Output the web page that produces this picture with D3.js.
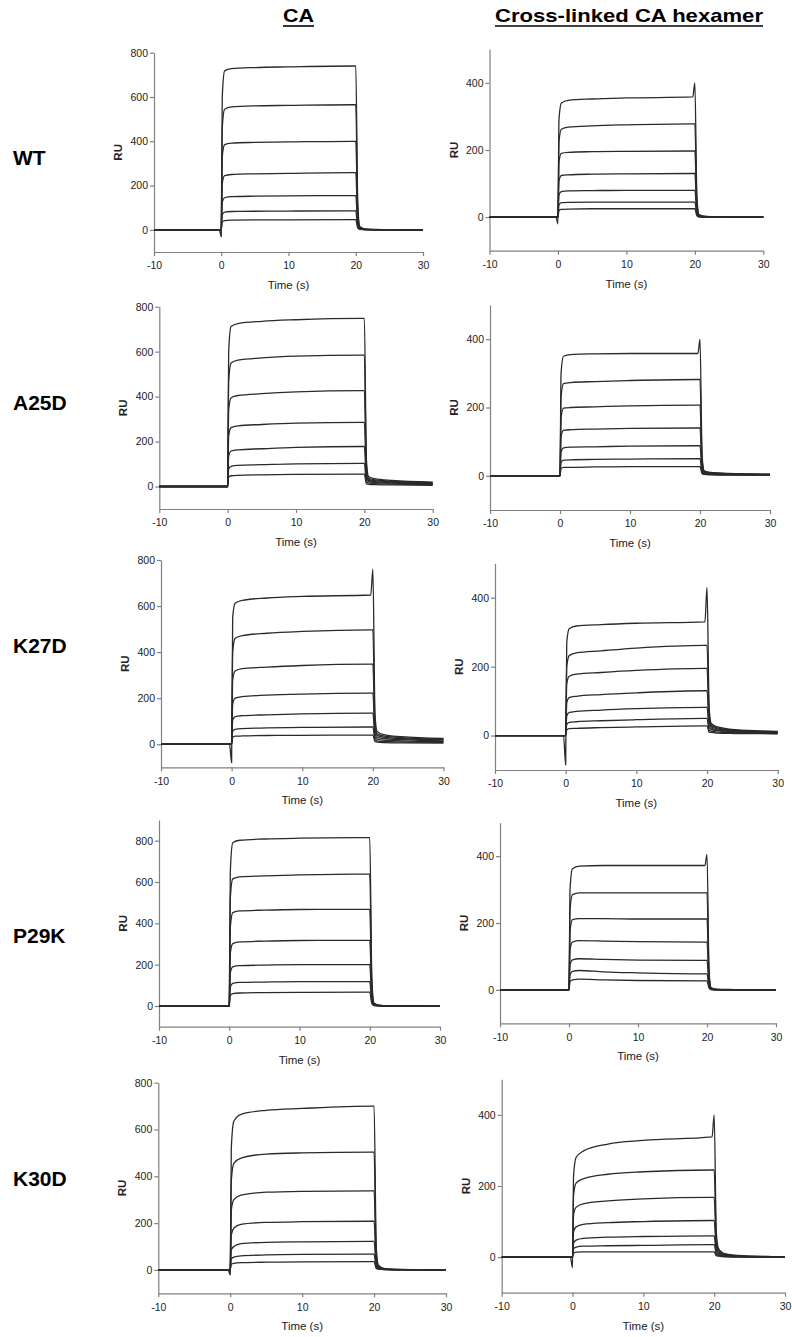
<!DOCTYPE html>
<html>
<head>
<meta charset="utf-8">
<script src="https://cdn.jsdelivr.net/npm/d3@7"></script>
<style>
  body { margin: 0; background: #fff; }
  svg { display: block; }
  .axis path, .axis line { stroke: #808080; stroke-width: 1.2; }
  .axis text { fill: #222; font-family: Arial, 'Liberation Sans', sans-serif; font-size: 10.5px; }
</style>
</head>
<body>
<svg id="chart" width="792" height="1337"></svg>
<script>
const times = [-10, -0.3, 0, 0.15, 0.5, 1.5, 5, 10, 19.7, 20, 20.3, 20.6, 21.5, 24, 30];

const mutants = ['WT', 'A25D', 'K27D', 'P29K', 'K30D'];
const columns = ['CA', 'Cross-linked CA hexamer'];
const xTicks = [-10, 0, 10, 20, 30];
const caTicks = [0, 200, 400, 600, 800];
const hexTicks = [0, 200, 400];

// RU values, one row per analyte concentration
const wtCA = [
  [0, 0, -30, 600, 718, 728, 733, 736, 740, 740, 120, 15, 3, 1, 0],
  [0, 0, 0, 460, 545, 555, 560, 562, 565, 565, 90, 12, 3, 1, 0],
  [0, 0, 0, 330, 385, 392, 395, 397, 400, 400, 65, 8, 2, 1, 0],
  [0, 0, 0, 210, 245, 250, 253, 255, 258, 258, 40, 6, 2, 0, 0],
  [0, 0, 0, 125, 145, 150, 152, 153, 155, 155, 25, 4, 1, 0, 0],
  [0, 0, 0, 68, 80, 83, 84, 85, 86, 86, 14, 3, 1, 0, 0],
  [0, 0, 0, 36, 42, 44, 45, 45, 46, 46, 8, 2, 0, 0, 0]
];
const wtHex = [
  [0, 0, -20, 290, 340, 348, 352, 355, 358, 400, 60, 8, 2, 1, 0],
  [0, 0, 0, 225, 262, 268, 272, 275, 278, 278, 45, 6, 2, 0, 0],
  [0, 0, 0, 165, 190, 193, 195, 196, 197, 197, 32, 4, 1, 0, 0],
  [0, 0, 0, 108, 124, 126, 128, 129, 130, 130, 22, 3, 1, 0, 0],
  [0, 0, 0, 66, 76, 78, 79, 80, 80, 80, 13, 2, 0, 0, 0],
  [0, 0, 0, 37, 43, 44, 45, 45, 45, 45, 8, 1, 0, 0, 0],
  [0, 0, 0, 20, 23, 24, 25, 25, 25, 25, 4, 1, 0, 0, 0]
];
const a25dCA = [
  [0, 0, 0, 600, 712, 725, 735, 742, 748, 748, 120, 45, 35, 27, 20],
  [0, 0, 0, 470, 550, 562, 572, 580, 585, 585, 95, 38, 30, 24, 17],
  [0, 0, 0, 340, 395, 405, 413, 421, 427, 427, 70, 32, 26, 21, 15],
  [0, 0, 0, 225, 262, 270, 276, 282, 285, 285, 48, 27, 22, 18, 13],
  [0, 0, 0, 135, 158, 163, 168, 174, 178, 178, 32, 22, 18, 15, 11],
  [0, 0, 0, 78, 90, 94, 97, 101, 103, 103, 20, 16, 13, 11, 8],
  [0, 0, 0, 42, 48, 50, 52, 54, 55, 55, 12, 10, 8, 7, 5]
];
const a25dHex = [
  [0, 0, 0, 300, 350, 355, 357, 358, 358, 400, 60, 15, 10, 7, 5],
  [0, 0, 0, 230, 270, 273, 276, 279, 282, 282, 45, 13, 9, 6, 4],
  [0, 0, 0, 170, 198, 200, 202, 205, 207, 207, 33, 11, 8, 5, 4],
  [0, 0, 0, 115, 133, 135, 137, 139, 140, 140, 23, 9, 7, 5, 3],
  [0, 0, 0, 70, 82, 84, 85, 87, 88, 88, 15, 7, 5, 4, 3],
  [0, 0, 0, 40, 46, 47, 48, 49, 50, 50, 9, 5, 4, 3, 2],
  [0, 0, 0, 21, 25, 25, 26, 27, 27, 27, 6, 4, 3, 2, 2]
];
const k27dCA = [
  [0, 0, -80, 550, 612, 625, 635, 642, 648, 760, 130, 55, 42, 33, 25],
  [0, 0, 0, 400, 460, 472, 482, 490, 497, 497, 90, 45, 36, 29, 22],
  [0, 0, 0, 280, 318, 328, 335, 342, 348, 348, 65, 38, 31, 25, 19],
  [0, 0, 0, 175, 200, 207, 213, 218, 222, 222, 45, 30, 25, 20, 15],
  [0, 0, 0, 105, 120, 124, 128, 132, 135, 135, 30, 22, 18, 15, 12],
  [0, 0, 0, 57, 65, 68, 71, 73, 75, 75, 20, 15, 12, 10, 8],
  [0, 0, 0, 30, 35, 36, 38, 39, 40, 40, 12, 9, 7, 6, 5]
];
const k27dHex = [
  [0, 0, -85, 270, 310, 318, 322, 326, 330, 430, 80, 35, 25, 17, 12],
  [0, 0, 0, 200, 232, 240, 246, 254, 262, 262, 60, 30, 22, 15, 11],
  [0, 0, 0, 150, 172, 178, 183, 189, 195, 195, 45, 26, 19, 14, 10],
  [0, 0, 0, 95, 110, 114, 119, 124, 130, 130, 32, 22, 16, 12, 9],
  [0, 0, 0, 57, 67, 70, 74, 78, 82, 82, 22, 18, 14, 10, 8],
  [0, 0, 0, 32, 38, 40, 43, 46, 50, 50, 15, 13, 10, 8, 6],
  [0, 0, 0, 16, 20, 21, 23, 25, 28, 28, 10, 9, 7, 6, 5]
];
const p29kCA = [
  [0, 0, 0, 650, 790, 802, 808, 812, 815, 815, 130, 15, 3, 1, 0],
  [0, 0, 0, 520, 615, 625, 630, 635, 638, 638, 100, 12, 3, 1, 0],
  [0, 0, 0, 380, 452, 460, 464, 467, 468, 468, 75, 9, 2, 1, 0],
  [0, 0, 0, 255, 302, 310, 314, 317, 318, 318, 50, 6, 2, 0, 0],
  [0, 0, 0, 160, 190, 195, 198, 200, 200, 200, 32, 4, 1, 0, 0],
  [0, 0, 0, 92, 110, 114, 116, 118, 118, 118, 19, 3, 1, 0, 0],
  [0, 0, 0, 50, 60, 63, 65, 66, 67, 67, 11, 2, 0, 0, 0]
];
const p29kHex = [
  [0, 0, 0, 300, 362, 370, 372, 372, 372, 405, 55, 6, 2, 1, 0],
  [0, 0, 0, 240, 285, 290, 290, 290, 290, 290, 45, 5, 1, 0, 0],
  [0, 0, 0, 175, 210, 213, 213, 212, 212, 212, 33, 4, 1, 0, 0],
  [0, 0, 0, 120, 143, 147, 146, 144, 143, 143, 23, 3, 1, 0, 0],
  [0, 0, 0, 75, 90, 93, 91, 89, 88, 88, 14, 2, 0, 0, 0],
  [0, 0, 0, 45, 55, 58, 54, 51, 48, 48, 8, 1, 0, 0, 0],
  [0, 0, 0, 25, 30, 32, 30, 28, 27, 27, 5, 1, 0, 0, 0]
];
const k30dCA = [
  [0, 0, -20, 520, 635, 665, 682, 690, 700, 700, 100, 20, 5, 2, 0],
  [0, 0, 0, 380, 455, 478, 495, 500, 503, 503, 70, 15, 4, 1, 0],
  [0, 0, 0, 255, 300, 320, 332, 336, 338, 338, 48, 12, 3, 1, 0],
  [0, 0, 0, 150, 178, 195, 203, 206, 208, 208, 30, 9, 2, 1, 0],
  [0, 0, 0, 85, 100, 112, 118, 120, 122, 122, 18, 6, 2, 0, 0],
  [0, 0, 0, 47, 55, 60, 64, 66, 67, 67, 10, 4, 1, 0, 0],
  [0, 0, 0, 24, 28, 31, 33, 34, 35, 35, 6, 3, 1, 0, 0]
];
const k30dHex = [
  [0, 0, -30, 230, 280, 298, 318, 328, 338, 400, 70, 25, 10, 4, 1],
  [0, 0, 0, 175, 208, 220, 233, 240, 245, 245, 50, 20, 8, 3, 1],
  [0, 0, 0, 120, 140, 150, 158, 164, 168, 168, 35, 15, 6, 2, 1],
  [0, 0, 0, 72, 85, 92, 97, 100, 103, 103, 22, 11, 5, 2, 0],
  [0, 0, 0, 40, 48, 53, 56, 58, 60, 60, 13, 8, 3, 1, 0],
  [0, 0, 0, 23, 28, 31, 32, 33, 35, 35, 8, 5, 2, 1, 0],
  [0, 0, 0, 11, 14, 15, 15, 15, 15, 15, 4, 3, 1, 0, 0]
];

// panel placement on the page (pixels)
const panels = [
  { data: wtCA,    ymax: 800, ticks: caTicks,  left: 154,   right: 423,   top: 52.7,   bottom: 252 },
  { data: wtHex,   ymax: 500, ticks: hexTicks, left: 489.5, right: 763.3, top: 49.3,   bottom: 250.7 },
  { data: a25dCA,  ymax: 800, ticks: caTicks,  left: 159.3, right: 432.7, top: 306.7,  bottom: 509 },
  { data: a25dHex, ymax: 500, ticks: hexTicks, left: 490,   right: 770,   top: 305,    bottom: 510 },
  { data: k27dCA,  ymax: 800, ticks: caTicks,  left: 161,   right: 443.5, top: 560,    bottom: 767.3 },
  { data: k27dHex, ymax: 500, ticks: hexTicks, left: 495,   right: 777.7, top: 563.3,  bottom: 770 },
  { data: p29kCA,  ymax: 900, ticks: caTicks,  left: 159,   right: 440,   top: 820,    bottom: 1026.7 },
  { data: p29kHex, ymax: 500, ticks: hexTicks, left: 500,   right: 776,   top: 822.7,  bottom: 1023.3 },
  { data: k30dCA,  ymax: 800, ticks: caTicks,  left: 158.3, right: 446,   top: 1082.7, bottom: 1293.3 },
  { data: k30dHex, ymax: 500, ticks: hexTicks, left: 501.7, right: 785,   top: 1079.3, bottom: 1292.7 }
];
const rowLabelY = [157, 402, 645, 935, 1178];
const titleX = [298.5, 629];
const titleWidth = [31, 268];

const font = 'Arial, "Liberation Sans", sans-serif';
const plain = d => String(d); // keep the hyphen-minus of the original labels
const svg = d3.select('#chart');

// column titles, underlined (the figure is stretched a little horizontally)
columns.forEach((c, i) => {
  svg.append('text')
    .attr('x', titleX[i] - titleWidth[i] / 2)
    .attr('y', 22)
    .attr('textLength', titleWidth[i])
    .attr('lengthAdjust', 'spacingAndGlyphs')
    .style('font-family', font)
    .style('font-weight', 'bold')
    .style('font-size', '18.5px')
    .text(c);
  svg.append('line')
    .attr('x1', titleX[i] - titleWidth[i] / 2).attr('x2', titleX[i] + titleWidth[i] / 2)
    .attr('y1', 26).attr('y2', 26)
    .attr('stroke', '#000').attr('stroke-width', 1.6);
});

// row labels
mutants.forEach((m, i) => {
  svg.append('text')
    .attr('x', 13)
    .attr('y', rowLabelY[i])
    .attr('dy', '0.36em')
    .style('font-family', font)
    .style('font-weight', 'bold')
    .style('font-size', '21px')
    .text(m);
});

panels.forEach(p => {
  const x = d3.scaleLinear().domain([-10, 30]).range([p.left, p.right]);
  const y = d3.scaleLinear().domain([-100, p.ymax]).range([p.bottom, p.top]);
  const g = svg.append('g');

  g.append('g')
    .attr('class', 'axis')
    .attr('transform', `translate(0,${p.bottom})`)
    .call(d3.axisBottom(x).tickValues(xTicks).tickFormat(plain)
      .tickSize(4).tickSizeOuter(0).tickPadding(6));

  g.append('g')
    .attr('class', 'axis')
    .attr('transform', `translate(${p.left},0)`)
    .call(d3.axisLeft(y).tickValues(p.ticks).tickFormat(plain)
      .tickSize(4).tickSizeOuter(0).tickPadding(2));

  g.append('text')
    .attr('x', (p.left + p.right) / 2)
    .attr('y', p.bottom + 37)
    .attr('text-anchor', 'middle')
    .style('font-family', font)
    .style('font-size', '11.5px')
    .style('fill', '#222')
    .text('Time (s)');

  g.append('text')
    .attr('transform', `translate(${p.left - 36},${(p.top + p.bottom) / 2}) rotate(-90)`)
    .attr('text-anchor', 'middle')
    .attr('dy', '0.36em')
    .style('font-family', font)
    .style('font-weight', 'bold')
    .style('font-size', '11.5px')
    .style('fill', '#222')
    .text('RU');

  const line = d3.line()
    .x((d, i) => x(times[i]))
    .y(d => y(d))
    .curve(d3.curveMonotoneX);

  g.selectAll('path.curve')
    .data(p.data)
    .join('path')
    .attr('class', 'curve')
    .attr('d', line)
    .attr('fill', 'none')
    .attr('stroke', '#2a2a2a')
    .attr('stroke-width', 1.3);
});
</script>
</body>
</html>
